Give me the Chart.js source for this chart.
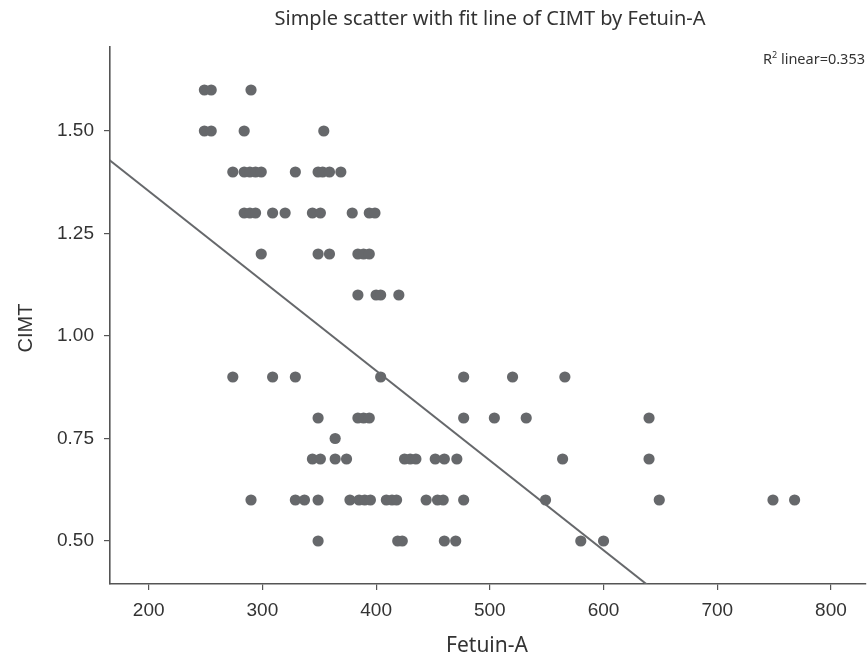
<!DOCTYPE html>
<html>
<head>
<meta charset="utf-8">
<script src="https://cdn.jsdelivr.net/npm/chart.js@4"></script>
<style>
html,body{margin:0;padding:0;background:#fff;}
#wrap{width:867px;height:658px;position:relative;}
</style>
</head>
<body>
<div id="wrap"><canvas id="c" width="867" height="658"></canvas></div>
<script>
// Data
const fetuinA = [
  249,255,290,
  249,255,284,354,
  274,284,289,294,299,329,349,353,359,369,
  284,289,294,309,320,344,351,379,394,399,
  299,349,359,384,389,394,
  384,400,404,420,
  274,309,329,404,477,520,566,
  349,384,389,394,477,504,532,640,
  364,
  344,351,364,374,425,430,435,452,460,471,564,640,
  290,329,337,349,377,385,390,395,409,414,418,444,454,459,477,549,649,749,768,
  349,419,423,460,470,580,600
];
const cimt = [
  1.6,1.6,1.6,
  1.5,1.5,1.5,1.5,
  1.4,1.4,1.4,1.4,1.4,1.4,1.4,1.4,1.4,1.4,
  1.3,1.3,1.3,1.3,1.3,1.3,1.3,1.3,1.3,1.3,
  1.2,1.2,1.2,1.2,1.2,1.2,
  1.1,1.1,1.1,1.1,
  0.9,0.9,0.9,0.9,0.9,0.9,0.9,
  0.8,0.8,0.8,0.8,0.8,0.8,0.8,0.8,
  0.75,
  0.7,0.7,0.7,0.7,0.7,0.7,0.7,0.7,0.7,0.7,0.7,0.7,
  0.6,0.6,0.6,0.6,0.6,0.6,0.6,0.6,0.6,0.6,0.6,0.6,0.6,0.6,0.6,0.6,0.6,0.6,0.6,
  0.5,0.5,0.5,0.5,0.5,0.5,0.5
];
// Fit line endpoints
const fitX = [150, 660];
const fitY = [1.463, 0.346];
const xTicks = [200,300,400,500,600,700,800];
const yTicks = [0.50,0.75,1.00,1.25,1.50];
const chartTitle = 'Simple scatter with fit line of CIMT by Fetuin-A';
const xTitle = 'Fetuin-A';
const yTitle = 'CIMT';
const r2Label = ['R', '2', ' linear=0.353'];

const gray = '#66686b';
const axisCol = '#555555';
const textCol = '#333333';

const points = fetuinA.map((x,i)=>({x:x, y:cimt[i]}));
const fit = fitX.map((x,i)=>({x:x, y:fitY[i]}));

const textPlugin = {
  id:'texts',
  afterDraw(chart){
    const ctx = chart.ctx;
    ctx.save();
    ctx.fillStyle = textCol;
    ctx.textBaseline = 'middle';
    ctx.font = '20px "Noto Sans"';
    ctx.textAlign = 'center';
    ctx.fillText(chartTitle, 490, 19);
    ctx.font = '21px "Noto Sans"';
    ctx.fillText(xTitle, 487, 646);
    ctx.save();
    ctx.translate(26, 328);
    ctx.rotate(-Math.PI/2);
    ctx.font = '20px "Liberation Sans"';
    ctx.fillText(yTitle, 0, 0);
    ctx.restore();
    ctx.textAlign = 'left';
    ctx.font = '14.5px "Noto Sans"';
    const w0 = ctx.measureText(r2Label[0]).width;
    ctx.font = '9px "Noto Sans"';
    const w1 = ctx.measureText(r2Label[1]).width;
    ctx.font = '14.5px "Noto Sans"';
    const w2 = ctx.measureText(r2Label[2]).width;
    let x0 = 865 - (w0+w1+w2);
    ctx.fillText(r2Label[0], x0, 60);
    ctx.font = '9px "Noto Sans"';
    ctx.fillText(r2Label[1], x0+w0, 55);
    ctx.font = '14.5px "Noto Sans"';
    ctx.fillText(r2Label[2], x0+w0+w1, 60);
    ctx.restore();
  }
};

new Chart(document.getElementById('c'), {
  type:'scatter',
  data:{
    datasets:[
      {
        type:'line',
        data:fit,
        borderColor:gray,
        borderWidth:2,
        pointRadius:0,
        fill:false,
        order:2
      },
      {
        data:points,
        backgroundColor:gray,
        borderColor:gray,
        borderWidth:0,
        pointRadius:5.6,
        pointHoverRadius:5.6,
        order:1
      }
    ]
  },
  options:{
    responsive:false,
    animation:false,
    devicePixelRatio:1,
    layout:{autoPadding:false, padding:{left:0,right:1,top:47,bottom:0}},
    plugins:{legend:{display:false},tooltip:{enabled:false},title:{display:false}},
    scales:{
      x:{
        type:'linear',
        min:166,
        max:830.8,
        afterBuildTicks(s){ s.ticks = xTicks.map(v=>({value:v})); },
        afterFit(s){ s.height = 74; s.paddingLeft = 0; s.paddingRight = 0; },
        grid:{display:true, drawOnChartArea:false, drawTicks:true, tickLength:6, color:axisCol, lineWidth:1.2},
        border:{display:true, color:axisCol, width:1.6},
        ticks:{color:textCol, font:{family:'"Liberation Sans"', size:19}, padding:9, maxRotation:0,
          callback:(v)=>String(v)}
      },
      y:{
        type:'linear',
        min:0.3951,
        max:1.7049,
        afterBuildTicks(s){ s.ticks = yTicks.map(v=>({value:v})); },
        afterFit(s){ s.width = 110; s.paddingTop = 0; s.paddingBottom = 0; },
        grid:{display:true, drawOnChartArea:false, drawTicks:true, tickLength:6, color:axisCol, lineWidth:1.2},
        border:{display:true, color:axisCol, width:1.6},
        ticks:{color:textCol, font:{family:'"Liberation Sans"', size:19}, padding:10,
          callback:(v)=>Number(v).toFixed(2)}
      }
    }
  },
  plugins:[textPlugin]
});
</script>
</body>
</html>
